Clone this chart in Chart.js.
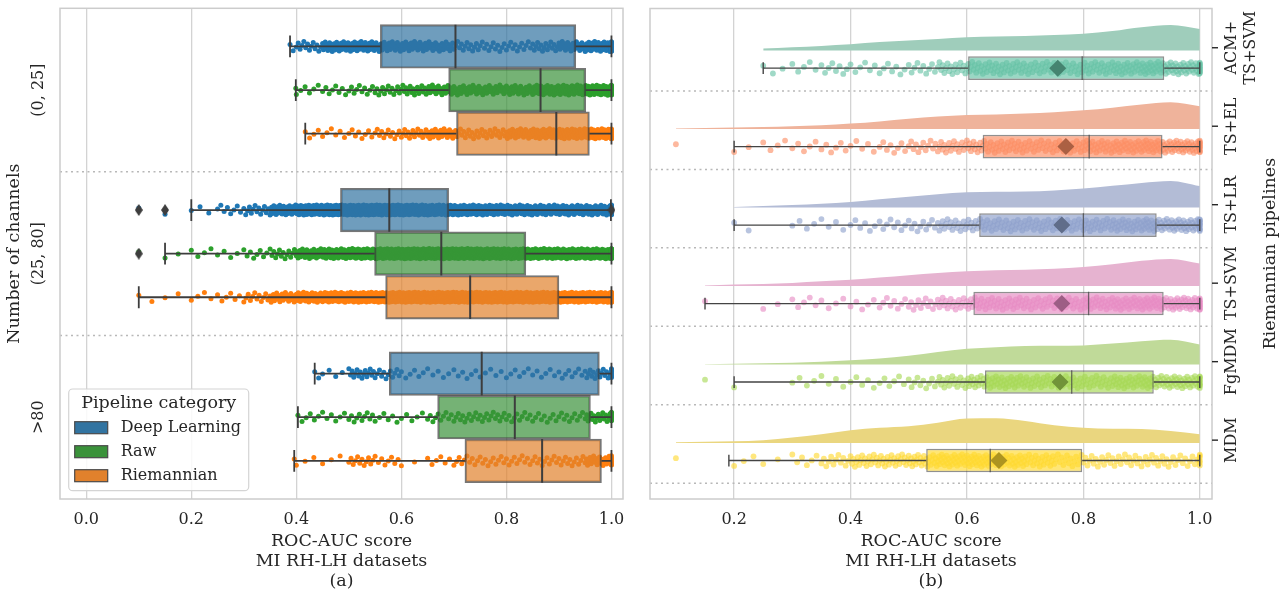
<!DOCTYPE html>
<html>
<head>
<meta charset="utf-8">
<script src="https://cdn.jsdelivr.net/npm/chart.js@4.4.1/dist/chart.umd.min.js"></script>
<style>
  body { margin: 0; background: #fff; }
  #left { position: absolute; left: 0; top: 0; }
  #right { position: absolute; left: 640px; top: 0; }
</style>
</head>
<body>
<canvas id="left" width="640" height="596"></canvas>
<canvas id="right" width="646" height="596"></canvas>
<script>
const serif = '"DejaVu Serif", "Liberation Serif", serif';
const textColor = '#262626';

const scoreTicks = [0, 0.2, 0.4, 0.6, 0.8, 1.0];
// strip bins: [0.10,0.15) ... [0.95,1.00), last entry = exactly 1.0
const binEdges = [0.10,0.15,0.20,0.25,0.30,0.35,0.40,0.45,0.50,0.55,0.60,0.65,0.70,0.75,0.80,0.85,0.90,0.95,1.00];

// ---------- (a) number of channels ----------
const channelGroups = ['(0, 25]', '(25, 80]', '>80'];
const pipelineCats = ['Deep Learning', 'Raw', 'Riemannian'];
const catColors = ['#1f77b4', '#2ca02c', '#ff7f0e'];
const catBoxColors = ['#3274a1', '#3a923a', '#e1812c'];

// [lower whisker, Q1, median, Q3, upper whisker], one row per channel group
const boxDL  = [[0.388,0.560,0.703,0.932,1.0],[0.200,0.484,0.577,0.690,0.999],[0.435,0.577,0.753,0.977,1.0]];
const boxRaw = [[0.399,0.690,0.865,0.951,1.0],[0.150,0.549,0.676,0.837,1.0],[0.403,0.669,0.816,0.960,1.0]];
const boxRie = [[0.417,0.705,0.895,0.958,1.0],[0.100,0.570,0.731,0.900,1.0],[0.396,0.721,0.868,0.981,1.0]];
const outDL  = [[], [0.10, 0.15, 1.0], []];
const outRaw = [[], [0.10], []];
const outRie = [[], [], []];

// point counts per bin
const stripDL = [
  [0,0,0,0,0,2,14,30,32,26,24,20,14,12,12,16,24,36,20],
  [1,1,3,8,14,35,70,100,110,110,95,80,60,50,45,40,38,38,24],
  [0,0,0,0,0,0,2,4,16,12,6,5,6,5,6,6,8,16,10]
];
const stripRaw = [
  [0,0,0,0,0,1,6,8,10,14,18,22,22,20,24,32,40,50,24],
  [1,2,4,4,8,14,30,45,60,80,95,100,95,85,75,65,60,60,40],
  [0,0,0,0,0,0,6,6,10,6,5,10,12,12,10,9,10,18,8]
];
const stripRie = [
  [0,0,0,0,0,0,4,6,8,12,16,24,16,16,26,34,44,52,24],
  [2,2,4,6,12,24,40,55,70,85,95,100,100,95,90,85,80,80,50],
  [0,0,0,0,0,1,3,3,12,8,2,6,10,10,10,11,12,22,10]
];

// ---------- (b) Riemannian pipelines ----------
const pipelines = [['ACM+', 'TS+SVM'], 'TS+EL', 'TS+LR', 'TS+SVM', 'FgMDM', 'MDM'];
const set2 = ['#66c2a5', '#fc8d62', '#8da0cb', '#e78ac3', '#a6d854', '#ffd92f'];
const cloudColors = ['#9fcdbb', '#efb39b', '#b3bcd6', '#e6b3d0', '#c0da99', '#ead67f'];
const meanColors = ['#458470', '#ab6043', '#606d8a', '#9d5e85', '#719339', '#ad9420'];

const boxR = [
  [0.250,0.602,0.798,0.939,1.0],
  [0.200,0.627,0.810,0.936,1.0],
  [0.200,0.621,0.800,0.926,1.0],
  [0.150,0.611,0.809,0.938,1.0],
  [0.200,0.631,0.780,0.921,1.0],
  [0.191,0.530,0.640,0.798,1.0]
];
const meanR = [0.756, 0.770, 0.763, 0.763, 0.760, 0.655];
const outR = [[], [0.10], [], [], [0.15], [0.10]];
const stripR = [
  [0,0,0,3,5,8,6,7,10,18,22,22,20,20,22,25,30,30,12],
  [1,0,2,4,5,6,5,8,12,18,22,22,20,22,25,28,32,35,12],
  [0,0,2,0,4,4,6,8,10,18,20,20,20,20,22,25,30,32,12],
  [0,1,0,2,5,4,5,8,12,18,22,22,20,20,24,28,32,35,12],
  [0,1,1,0,4,4,5,6,10,18,25,25,22,20,20,25,28,30,10],
  [1,0,3,2,6,12,20,22,25,30,32,28,22,16,14,14,14,12,6]
];
// cloud (density) heights at binEdges, relative to the tallest cloud
const cloudR = [
  [null,null,null,0.07,0.12,0.17,0.23,0.31,0.37,0.43,0.49,0.52,0.54,0.57,0.62,0.72,0.86,0.94,0.80],
  [0.02,0.04,0.05,0.07,0.10,0.14,0.20,0.28,0.38,0.46,0.52,0.54,0.57,0.62,0.69,0.79,0.91,0.99,0.84],
  [null,null,0.02,0.05,0.09,0.14,0.20,0.30,0.40,0.49,0.56,0.58,0.59,0.63,0.70,0.80,0.91,0.98,0.79],
  [null,0.02,0.05,0.07,0.11,0.17,0.23,0.31,0.40,0.48,0.54,0.58,0.60,0.64,0.70,0.80,0.93,1.00,0.83],
  [null,0.01,0.02,0.04,0.06,0.10,0.15,0.22,0.32,0.46,0.58,0.64,0.68,0.69,0.70,0.77,0.86,0.91,0.74],
  [0.02,0.04,0.06,0.10,0.20,0.32,0.47,0.56,0.62,0.75,0.90,0.91,0.81,0.65,0.56,0.52,0.51,0.44,0.32]
];

// ---------- helpers ----------
function stripPoints(counts, low, center, spread) {
  const pts = [];
  let k = 0;
  counts.forEach((n, b) => {
    const lo = Math.max(binEdges[b], low);
    const hi = b < binEdges.length - 1 ? binEdges[b + 1] : binEdges[b];
    for (let i = 0; i < n; i++, k++) {
      const jit = ((k * 0.618034 + 0.31) % 1) - 0.5;
      pts.push({x: lo + (hi - lo) * i / n, y: center + jit * spread});
    }
  });
  return pts;
}

function thinDiamond(w, h, color) {
  const c = document.createElement('canvas');
  c.width = w; c.height = h;
  const g = c.getContext('2d');
  g.fillStyle = color;
  g.beginPath();
  g.moveTo(w / 2, 0); g.lineTo(w, h / 2); g.lineTo(w / 2, h); g.lineTo(0, h / 2);
  g.closePath(); g.fill();
  return c;
}

function alpha(hex, a) {
  const n = parseInt(hex.slice(1), 16);
  return `rgba(${n >> 16},${(n >> 8) & 255},${n & 255},${a})`;
}

// half of a box's pixel thickness, from the y scale
const halfBox = t => c => Math.abs(c.chart.scales.y.getPixelForValue(t) - c.chart.scales.y.getPixelForValue(0)) / 2;

function boxSets(stats, pos, thick, st) {
  const whisk = [], caps = [], meds = [];
  stats.forEach((b, i) => {
    whisk.push({x: b[0], y: pos[i]}, {x: b[1], y: pos[i]}, {x: b[1], y: null},
               {x: b[3], y: pos[i]}, {x: b[4], y: pos[i]}, {x: b[4], y: null});
    caps.push({x: b[0], y: pos[i]}, {x: b[4], y: pos[i]});
    meds.push({x: b[2], y: pos[i]});
  });
  return [
    {type: 'bar', indexAxis: 'y', data: stats.map((b, i) => ({x: [b[1], b[3]], y: pos[i]})),
     grouped: false, categoryPercentage: 1, barPercentage: st.barPct,
     backgroundColor: st.fill, borderColor: st.edge, borderWidth: st.edgeW, borderSkipped: false, order: 5},
    {type: 'line', data: whisk, showLine: true, spanGaps: false, borderColor: st.line,
     borderWidth: st.lineW, pointRadius: 0, order: 4},
    {type: 'scatter', data: caps, pointStyle: 'line', pointRotation: 90, pointRadius: halfBox(thick / 2),
     pointBorderColor: st.line, pointBorderWidth: st.lineW, order: 3},
    {type: 'scatter', data: meds, pointStyle: 'line', pointRotation: 90, pointRadius: halfBox(thick),
     pointBorderColor: st.med, pointBorderWidth: st.medW, order: 2}
  ];
}

function sepSet(ys, xr) {
  const d = [];
  ys.forEach(v => d.push({x: xr[0], y: v}, {x: xr[1], y: v}, {x: xr[1], y: null}));
  return {type: 'line', data: d, showLine: true, spanGaps: false, borderColor: '#b8b8b8',
          borderWidth: 1.5, borderDash: [2, 3.5], pointRadius: 0, order: 9};
}

function vtext(ctx, t, x, y) {
  ctx.save(); ctx.translate(x, y); ctx.rotate(-Math.PI / 2);
  ctx.fillText(t, 0, 0); ctx.restore();
}

const panelDecor = {
  id: 'panelDecor',
  afterDatasetsDraw(chart, args, o) {
    const {ctx, chartArea: a} = chart;
    const y = chart.scales.y;
    ctx.save();
    ctx.strokeStyle = '#cccccc'; ctx.lineWidth = 1.5;
    ctx.strokeRect(a.left, a.top, a.right - a.left, a.bottom - a.top);
    ctx.fillStyle = textColor; ctx.font = '16px ' + serif;
    ctx.textAlign = 'center'; ctx.textBaseline = 'middle';
    o.labels.forEach((lab, i) => {
      const py = y.getPixelForValue(i);
      [].concat(lab).forEach((t, j) => {
        const px = o.side === 'left' ? a.left - o.labelGap : a.right + o.labelGap + j * 19;
        vtext(ctx, t, px, py);
      });
      if (o.tickLen) {
        ctx.strokeStyle = textColor; ctx.lineWidth = 1.4;
        ctx.beginPath(); ctx.moveTo(a.right, py); ctx.lineTo(a.right + o.tickLen, py); ctx.stroke();
      }
    });
    ctx.font = '17.5px ' + serif;
    const my = (a.top + a.bottom) / 2;
    vtext(ctx, o.title, o.side === 'left' ? a.left - o.titleGap : a.right + o.titleGap, my);

    if (o.legend) {
      const lx = a.left + 8.7, ly = a.bottom - 110, lw = 180, lh = 101.7;
      ctx.fillStyle = 'rgba(255,255,255,0.85)'; ctx.strokeStyle = '#d4d4d4'; ctx.lineWidth = 1.2;
      ctx.beginPath(); ctx.roundRect(lx, ly, lw, lh, 4); ctx.fill(); ctx.stroke();
      ctx.fillStyle = textColor;
      ctx.fillText('Pipeline category', lx + lw / 2, ly + 14);
      ctx.font = '16px ' + serif;
      ctx.textAlign = 'left';
      pipelineCats.forEach((c, i) => {
        const ey = ly + 38.7 + i * 24;
        ctx.fillStyle = catBoxColors[i]; ctx.strokeStyle = '#4a4a4a'; ctx.lineWidth = 1.2;
        ctx.fillRect(lx + 6, ey - 6, 33, 12); ctx.strokeRect(lx + 6, ey - 6, 33, 12);
        ctx.fillStyle = textColor;
        ctx.fillText(c, lx + 52, ey);
      });
    }
    ctx.restore();
  }
};

function panelOptions(xr, yr, nGroups, xTitle, pad, decor) {
  return {
    responsive: false, animation: false, events: [],
    layout: {padding: pad},
    plugins: {legend: {display: false}, tooltip: {enabled: false}, panelDecor: decor},
    scales: {
      x: {
        type: 'linear', min: xr[0], max: xr[1], beginAtZero: false, offset: false,
        afterBuildTicks: s => { s.ticks = scoreTicks.filter(v => v >= xr[0] && v <= xr[1]).map(v => ({value: v})); },
        afterFit: s => { s.height = 97; },
        grid: {color: '#d3d3d3', lineWidth: 1.3, drawTicks: false, offset: false},
        border: {display: false},
        ticks: {color: textColor, font: {family: serif, size: 16}, padding: 11, maxRotation: 0,
                autoSkip: false, callback: v => v.toFixed(1)},
        title: {display: true, text: xTitle, color: textColor,
                font: {family: serif, size: 17.5, lineHeight: 1.16}, padding: {top: 0, bottom: 4}}
      },
      y: {
        type: 'linear', min: yr[0], max: yr[1], reverse: true, display: false, offset: false,
        grid: {display: false, offset: false},
        afterBuildTicks: s => { s.ticks = Array.from({length: nGroups}, (_, i) => ({value: i})); }
      }
    }
  };
}

// ---------- left panel ----------
const leftX = [-0.05, 1.022];
const hueW = 0.8 / 3;
const leftSets = [sepSet([0.5, 1.5], leftX)];
const outMark = thinDiamond(8, 12, '#3d3d3d');
[boxDL, boxRaw, boxRie].forEach((stats, h) => {
  const outs = [outDL, outRaw, outRie][h];
  const strips = [stripDL, stripRaw, stripRie][h];
  const pos = channelGroups.map((_, g) => g + (h - 1) * hueW);
  let pts = [];
  strips.forEach((cnt, g) => {
    pts = pts.concat(stripPoints(cnt, Math.min(stats[g][0], ...outs[g]), pos[g], 0.062));
  });
  leftSets.push({type: 'scatter', data: pts, pointRadius: 2.5, pointBorderWidth: 0,
                 pointBackgroundColor: catColors[h], order: 6});
  leftSets.push(...boxSets(stats, pos, hueW, {
    barPct: 1, fill: alpha(catBoxColors[h], 0.7), edge: 'rgba(60,60,60,0.7)', edgeW: 1.8,
    line: '#3d3d3d', lineW: 1.8, med: '#3d3d3d', medW: 2
  }));
  const op = [];
  outs.forEach((o, g) => o.forEach(v => op.push({x: v, y: pos[g]})));
  leftSets.push({type: 'scatter', data: op, pointStyle: outMark, order: 1});
});

new Chart(document.getElementById('left'), {
  type: 'scatter',
  data: {datasets: leftSets},
  options: panelOptions(leftX, [-0.5, 2.5], channelGroups.length,
    ['ROC-AUC score', 'MI RH-LH datasets', '(a)'],
    {left: 60, top: 8.3, right: 17, bottom: 0},
    {side: 'left', labels: channelGroups, labelGap: 21, title: 'Number of channels', titleGap: 46, legend: true}),
  plugins: [panelDecor]
});

// ---------- right panel ----------
const rightX = [0.0555, 1.021];
const cloudBase = 0.035, cloudH = 0.344, boxOff = 0.26, boxT = 0.3;
const rightSets = [sepSet(pipelines.map((_, i) => i + 0.55), rightX)];
pipelines.forEach((p, i) => {
  const base = i + cloudBase;
  const cloud = [];
  cloudR[i].forEach((v, j) => { if (v !== null) cloud.push({x: binEdges[j], y: base - v * cloudH}); });
  rightSets.push({type: 'line', data: cloud, showLine: true, fill: {value: base},
                  backgroundColor: cloudColors[i], borderWidth: 0, pointRadius: 0,
                  cubicInterpolationMode: 'monotone', order: 10});
  const pos = i + boxOff;
  rightSets.push({type: 'scatter', data: stripPoints(stripR[i], Math.min(boxR[i][0], ...outR[i]), pos, 0.16),
                  pointRadius: 2.9, pointBorderWidth: 0, pointBackgroundColor: alpha(set2[i], 0.62), order: 6});
  rightSets.push(...boxSets([boxR[i]], [pos], boxT, {
    barPct: boxT, fill: alpha(set2[i], 0.66), edge: 'rgba(70,70,70,0.6)', edgeW: 1.5,
    line: '#444444', lineW: 1.4, med: 'rgba(70,70,70,0.75)', medW: 1.3
  }));
  rightSets.push({type: 'scatter', data: [{x: meanR[i], y: pos}], pointStyle: 'rectRot', pointRadius: 8.5,
                  pointBorderWidth: 0, pointBackgroundColor: meanColors[i], order: 1});
});

new Chart(document.getElementById('right'), {
  type: 'scatter',
  data: {datasets: rightSets},
  options: panelOptions(rightX, [-0.5, 5.75], pipelines.length,
    ['ROC-AUC score', 'MI RH-LH datasets', '(b)'],
    {left: 10, top: 8.3, right: 74, bottom: 0},
    {side: 'right', labels: pipelines, labelGap: 20, tickLen: 6, title: 'Riemannian pipelines', titleGap: 58}),
  plugins: [panelDecor]
});
</script>
</body>
</html>
